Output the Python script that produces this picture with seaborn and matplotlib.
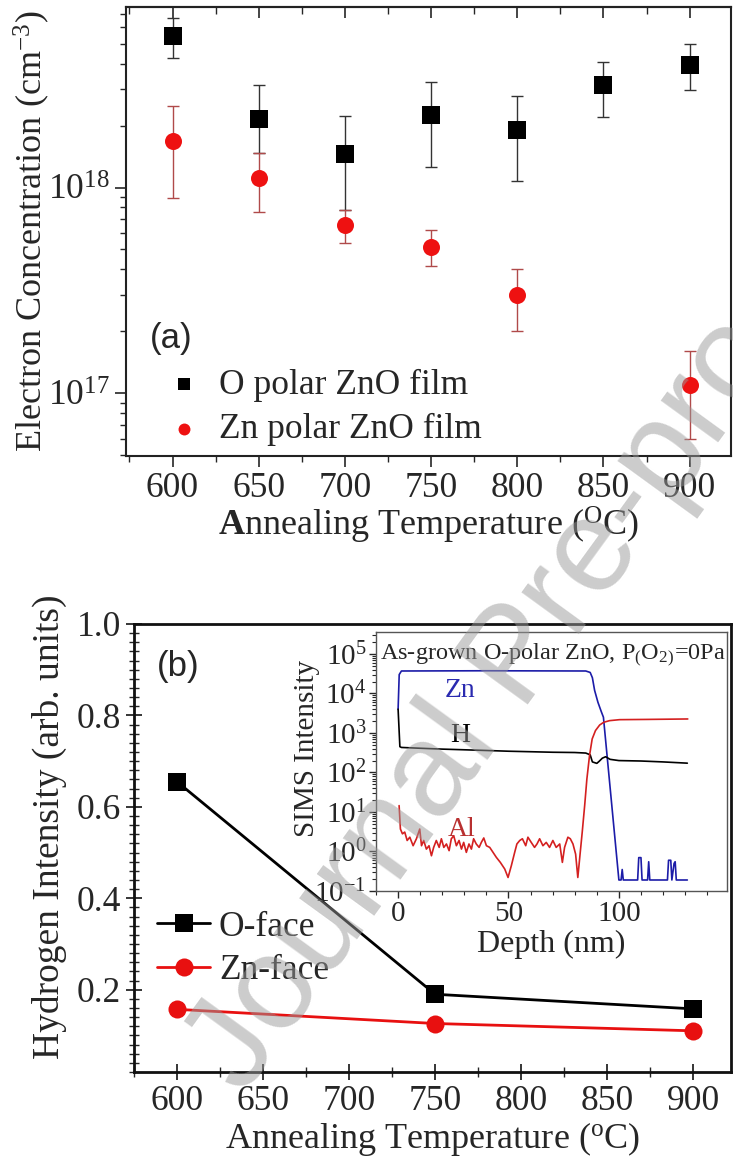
import matplotlib
matplotlib.use("Agg")
import matplotlib.pyplot as plt
import matplotlib.ticker as mticker
import numpy as np
import pandas as pd
import seaborn as sns

# ---- panel (a): electron concentration vs annealing temperature ----
temp_a = [600, 650, 700, 750, 800, 850, 900]
o_conc = [5.43e18, 2.16e18, 1.45e18, 2.24e18, 1.91e18, 3.15e18, 3.93e18]
o_err_hi = [6.68e18, 3.15e18, 2.23e18, 3.25e18, 2.78e18, 4.08e18, 4.97e18]
o_err_lo = [4.24e18, 1.47e18, 7.8e17, 1.26e18, 1.07e18, 2.21e18, 2.98e18]

temp_zn = [600, 650, 700, 750, 800, 900]
zn_conc = [1.68e18, 1.11e18, 6.56e17, 5.15e17, 3.0e17, 1.1e17]
zn_err_hi = [2.48e18, 1.47e18, 7.8e17, 6.18e17, 4.0e17, 1.61e17]
zn_err_lo = [8.85e17, 7.57e17, 5.37e17, 4.16e17, 2.0e17, 6.0e16]

# ---- panel (b): hydrogen intensity ----
temp_b = [600, 750, 900]
h_oface = [0.655, 0.19, 0.158]
h_znface = [0.157, 0.126, 0.11]

# ---- inset: SIMS depth profile ----
zn_depth = [0, 0.5, 1.5, 40, 85, 87, 88, 89, 90.5, 92, 93, 100, 101, 101.5, 102,
            108.5, 109, 110, 110.5, 113, 113.5, 114, 122, 122.5, 123.5, 124,
            125, 125.5, 126, 131]
zn_signal = [4000, 30000, 37000, 37500, 37000, 34000, 25000, 12000, 6000, 3500,
             2500, 0.19, 0.19, 0.35, 0.19, 0.19, 0.7, 0.7, 0.19, 0.19, 0.55,
             0.19, 0.19, 0.6, 0.6, 0.19, 0.5, 0.55, 0.19, 0.19]

h_depth = [0, 0.8, 1.5, 10, 20, 30, 40, 50, 60, 70, 80, 85, 87, 88, 90, 91,
           92.5, 94, 96, 100, 110, 120, 131]
h_signal = [4000, 450, 430, 410, 390, 375, 360, 345, 335, 325, 320, 310, 280,
            185, 170, 190, 230, 250, 215, 200, 195, 185, 172]

al_depth = [0.45, 1.05, 1.96, 3.0, 4.1, 5.3, 6.8, 8.3, 9.8, 10.6, 11.6, 12.8,
            14.0, 15.1, 16.1, 17.3, 18.6, 19.6, 20.7, 21.9, 23.1, 24.1, 25.2,
            26.4, 27.6, 28.7, 29.7, 30.9, 32.1, 33.2, 34.2, 35.4, 36.7, 37.7,
            38.8, 40.0, 41.5, 43.0, 44.5, 46.3, 48.3, 49.8, 51.3, 52.8, 53.8,
            55.1, 56.3, 57.8, 58.8, 60.3, 61.8, 62.9, 64.1, 65.6, 67.1, 68.6,
            70.1, 71.6, 73.2, 74.4, 75.4, 76.9, 78.0, 79.2, 80.4, 81.4, 82.5,
            83.4, 84.5, 85.5, 86.7, 87.9, 89.4, 91.3, 93.1, 95.8, 100.3, 112.4,
            131.2]
al_signal = [14.5, 3.7, 2.8, 3.1, 1.9, 2.3, 1.4, 2.1, 3.7, 1.4, 1.9, 1.15,
             1.4, 0.78, 1.27, 1.9, 1.27, 2.1, 1.27, 1.55, 1.05, 2.1, 2.5,
             1.4, 1.9, 1.15, 1.7, 0.95, 1.55, 1.15, 2.1, 1.55, 1.27, 1.7,
             2.2, 1.4, 1.27, 0.95, 0.71, 0.53, 0.36, 0.22, 0.44, 0.95, 1.55,
             1.9, 2.1, 1.4, 2.3, 1.7, 1.27, 1.55, 2.1, 1.4, 1.7, 1.27, 1.9,
             1.27, 1.55, 0.53, 1.27, 2.3, 2.1, 1.55, 0.86, 0.22, 0.95, 3.1,
             14.5, 68, 267, 705, 1150, 1590, 1860, 2050, 2170, 2200, 2260]

SERIF = "Liberation Serif"

sns.set_theme(style="ticks")
plt.rcParams["font.family"] = [SERIF, "DejaVu Serif"]
plt.rcParams["mathtext.fontset"] = "custom"
plt.rcParams["mathtext.rm"] = SERIF
plt.rcParams["mathtext.it"] = SERIF + ":italic"
plt.rcParams["mathtext.bf"] = SERIF + ":bold"

fig = plt.figure(figsize=(7.33, 11.57), dpi=100)

# ---------- panel (a) ----------
ax1 = fig.add_axes([0.1719, 0.6059, 0.8254, 0.3881])
df_o = pd.DataFrame({"temp": temp_a, "conc": o_conc})
df_zn = pd.DataFrame({"temp": temp_zn, "conc": zn_conc})

ax1.errorbar(temp_a, o_conc,
             yerr=[np.array(o_conc) - np.array(o_err_lo), np.array(o_err_hi) - np.array(o_conc)],
             fmt="none", ecolor="#333333", elinewidth=1.0, capsize=4, capthick=1.0, zorder=2)
ax1.errorbar(temp_zn, zn_conc,
             yerr=[np.array(zn_conc) - np.array(zn_err_lo), np.array(zn_err_hi) - np.array(zn_conc)],
             fmt="none", ecolor="#b04a4a", elinewidth=1.0, capsize=4, capthick=1.0, zorder=2)
sns.scatterplot(data=df_o, x="temp", y="conc", ax=ax1, marker="s", s=150, color="black",
                edgecolor="black", linewidth=0, label="O polar ZnO film", zorder=3)
sns.scatterplot(data=df_zn, x="temp", y="conc", ax=ax1, marker="o", s=150, color="#ee1111",
                edgecolor="#ee1111", linewidth=0, label="Zn polar ZnO film", zorder=3)

ax1.set_yscale("log")
ax1.set_xlim(573, 924)
ax1.set_ylim(4.95e16, 7.55e18)
ax1.xaxis.set_major_locator(mticker.MultipleLocator(50))
ax1.xaxis.set_minor_locator(mticker.MultipleLocator(25))
ax1.xaxis.set_major_formatter(mticker.FormatStrFormatter("%d"))
ax1.yaxis.set_major_locator(mticker.LogLocator(base=10))
ax1.yaxis.set_minor_locator(mticker.LogLocator(base=10, subs=np.arange(2, 10)))
ax1.yaxis.set_minor_formatter(mticker.NullFormatter())
ax1.tick_params(axis="both", which="major", labelsize=25.5, direction="out", length=8, width=1.2,
                labelfontfamily=SERIF)
ax1.tick_params(axis="both", which="minor", direction="out", length=4.5, width=1.0)
# top axis carries inward ticks only
top1 = ax1.secondary_xaxis("top")
top1.xaxis.set_major_locator(mticker.MultipleLocator(50))
top1.xaxis.set_minor_locator(mticker.MultipleLocator(25))
top1.tick_params(which="major", direction="in", length=8, width=1.2, labeltop=False)
top1.tick_params(which="minor", direction="in", length=5, width=1.0)
top1.spines["top"].set_linewidth(1.5)

ax1.set_xlabel(r"$\mathbf{A}$nnealing Temperature ($^{\rm O}$C)", fontsize=26, labelpad=0)
ax1.set_ylabel(r"Electron Concentration (cm$^{-3}$)", fontsize=26)
ax1.yaxis.set_label_coords(-0.122, 0.5)
for s in ax1.spines.values():
    s.set_linewidth(1.5)
    s.set_color("#222222")
ax1.text(0.04, 0.262, "(a)", transform=ax1.transAxes, fontsize=25,
         family="Liberation Sans", va="center", ha="left")
ax1.legend(loc="upper left", bbox_to_anchor=(0.066, 0.195), frameon=False, fontsize=25.5,
           markerscale=0.7, handlelength=1.0, handletextpad=0.5, labelspacing=0.32,
           borderpad=0, borderaxespad=0)

# ---------- panel (b) ----------
ax2 = fig.add_axes([0.1828, 0.0735, 0.8145, 0.3872])
df_b = pd.DataFrame({"temp": temp_b * 2,
                     "h": h_oface + h_znface,
                     "face": ["O-face"] * 3 + ["Zn-face"] * 3})
sns.lineplot(data=df_b, x="temp", y="h", hue="face", style="face",
             palette={"O-face": "black", "Zn-face": "#e81010"},
             markers={"O-face": "s", "Zn-face": "o"}, dashes=False,
             markersize=13, markeredgewidth=0, linewidth=2.0, ax=ax2)
ax2.set_xlim(575, 922)
ax2.set_ylim(0.02, 1.0)
ax2.xaxis.set_major_locator(mticker.MultipleLocator(50))
ax2.xaxis.set_minor_locator(mticker.MultipleLocator(25))
ax2.xaxis.set_major_formatter(mticker.FormatStrFormatter("%d"))
ax2.yaxis.set_major_locator(mticker.FixedLocator([0.2, 0.4, 0.6, 0.8, 1.0]))
ax2.yaxis.set_minor_locator(mticker.MultipleLocator(0.02))
ax2.yaxis.set_major_formatter(mticker.FormatStrFormatter("%.1f"))
ax2.tick_params(axis="both", which="major", labelsize=25.5, direction="inout", length=12, width=1.3,
                labelfontfamily=SERIF)
ax2.tick_params(axis="both", which="minor", direction="inout", length=7, width=1.0)
ax2.set_xlabel(r"Annealing Temperature ($^{\rm o}$C)", fontsize=26, labelpad=1)
ax2.set_ylabel("Hydrogen Intensity (arb. units)", fontsize=27)
ax2.yaxis.set_label_coords(-0.112, 0.547)
for s in ax2.spines.values():
    s.set_linewidth(2.0)
    s.set_color("#111111")
ax2.text(0.0385, 0.904, "(b)", transform=ax2.transAxes, fontsize=25,
         family="Liberation Sans", va="center", ha="left")
ax2.legend(loc="upper left", bbox_to_anchor=(0.0385, 0.36), frameon=False, fontsize=25.5,
           handlelength=1.5, handletextpad=0.25, labelspacing=0.3, borderpad=0,
           borderaxespad=0, title=None)

# ---------- inset ----------
ax3 = fig.add_axes([0.513, 0.2299, 0.4789, 0.2239])
sns.lineplot(x=zn_depth, y=zn_signal, color="#1c1ca8", linewidth=1.2, ax=ax3,
             estimator=None, sort=False)
sns.lineplot(x=h_depth, y=h_signal, color="black", linewidth=1.2, ax=ax3,
             estimator=None, sort=False)
sns.lineplot(x=al_depth, y=al_signal, color="#d42020", linewidth=1.2, ax=ax3,
             estimator=None, sort=False)
ax3.set_yscale("log")
ax3.set_xlim(-10, 149)
ax3.set_ylim(0.1, 3.6e5)
ax3.xaxis.set_major_locator(mticker.MultipleLocator(50))
ax3.xaxis.set_minor_locator(mticker.MultipleLocator(10))
ax3.xaxis.set_major_formatter(mticker.FormatStrFormatter("%d"))
ax3.yaxis.set_major_locator(mticker.LogLocator(base=10, numticks=10))
ax3.yaxis.set_minor_locator(mticker.LogLocator(base=10, subs=np.arange(2, 10), numticks=10))
ax3.yaxis.set_minor_formatter(mticker.NullFormatter())
ax3.tick_params(axis="both", which="major", labelsize=21, direction="out", length=5, width=1.0,
                pad=2, labelfontfamily=SERIF)
ax3.tick_params(axis="both", which="minor", direction="out", length=3, width=0.8)
ax3.set_xlabel("Depth (nm)", fontsize=23, labelpad=2)
ax3.set_ylabel("SIMS Intensity", fontsize=21)
ax3.yaxis.set_label_coords(-0.16, 0.552)
for s in ax3.spines.values():
    s.set_linewidth(1.0)
    s.set_color("#555555")
ax3.text(0.505, 0.91, r"As-grown O-polar ZnO, P$_($O$_2$$_)$=0Pa", transform=ax3.transAxes,
         fontsize=17.5, ha="center", va="center")
ax3.text(28, 1.2e4, "Zn", color="#2a2ab0", fontsize=20, ha="center", va="center")
ax3.text(28, 850, "H", color="black", fontsize=20, ha="center", va="center")
ax3.text(28.7, 3.7, "Al", color="#b83030", fontsize=20, ha="center", va="center")

# watermark
fig.text(0.707, 0.43, "Journal Pre-proof", fontsize=96, family="Liberation Sans",
         color="#9a9a9a", alpha=0.5, rotation=54, ha="center", va="center", zorder=10)

fig.savefig("out.png", dpi=100)
